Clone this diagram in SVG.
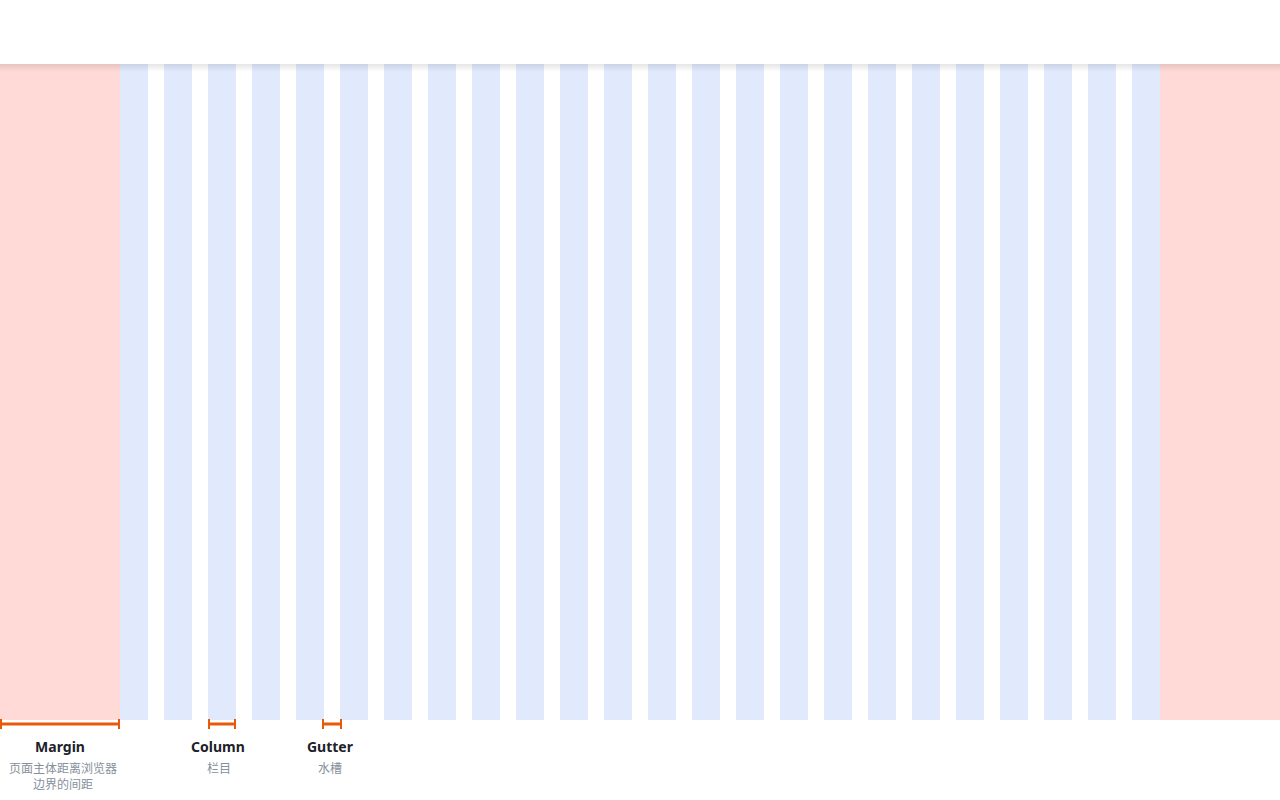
<svg xmlns="http://www.w3.org/2000/svg" width="1280" height="800" viewBox="0 0 1280 800">
<defs>
<linearGradient id="sh" x1="0" y1="0" x2="0" y2="1">
<stop offset="0" stop-color="#000" stop-opacity="0.1"/>
<stop offset="1" stop-color="#000" stop-opacity="0"/>
</linearGradient>
<pattern id="cols" x="120" y="0" width="44" height="800" patternUnits="userSpaceOnUse">
<rect x="0" y="0" width="28" height="800" fill="#E1EAFD"/>
</pattern>
</defs>
<style>
.m{fill:#FFDAD6}
.t{font-family:"Noto Sans","Noto Sans CJK SC",sans-serif;font-size:14px;font-weight:bold;fill:#1d2129;text-anchor:middle}
.s{font-family:"Noto Sans CJK SC","Noto Sans",sans-serif;font-size:12px;fill:#86909c;text-anchor:middle}
.ln{stroke:#E8590C;stroke-width:3;fill:none}
.cap{stroke:#E8590C;stroke-width:2;fill:none}
</style>
<rect width="1280" height="800" fill="#fff"/>
<g id="margin-left"><rect class="m" x="0" y="64" width="120" height="656"/></g>
<g id="columns"><rect x="120" y="64" width="1040" height="656" fill="url(#cols)"/></g>
<g id="margin-right"><rect class="m" x="1160" y="64" width="120" height="656"/></g>
<g id="header">
<rect x="0" y="64" width="1280" height="8" fill="url(#sh)"/>
<rect x="0" y="0" width="1280" height="64" fill="#fff"/>
</g>
<g id="connectors">
<path class="ln" d="M1 724H119"/>
<path class="cap" d="M1 719V729M119 719V729"/>
<path class="ln" d="M209 724H235"/>
<path class="cap" d="M209 719V729M235 719V729"/>
<path class="ln" d="M323 724H341"/>
<path class="cap" d="M323 719V729M341 719V729"/>
</g>
<g id="label-margin">
<text class="t" x="60" y="752">Margin</text>
<text class="s" x="63" y="773">页面主体距离浏览器</text>
<text class="s" x="63" y="789">边界的间距</text>
</g>
<g id="label-column">
<text class="t" x="218" y="752">Column</text>
<text class="s" x="219" y="773">栏目</text>
</g>
<g id="label-gutter">
<text class="t" x="330" y="752">Gutter</text>
<text class="s" x="330" y="773">水槽</text>
</g>
</svg>
